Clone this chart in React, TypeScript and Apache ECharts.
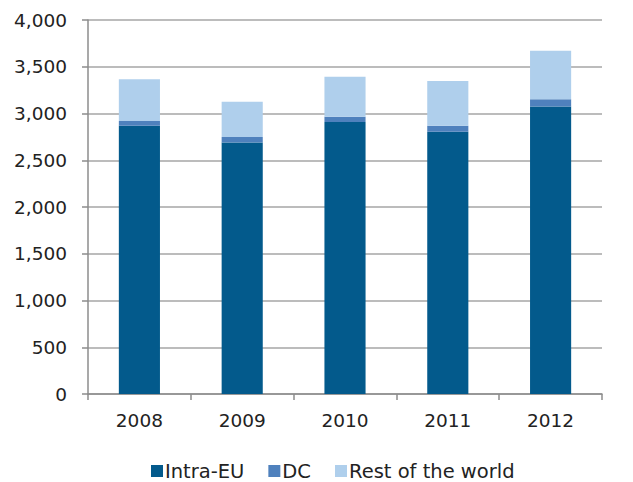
import React, { useEffect, useRef } from "react";
import * as echarts from "echarts";

const years = ["2008", "2009", "2010", "2011", "2012"];
const intraEU = [2870, 2690, 2910, 2805, 3075];
const dc = [50, 60, 55, 65, 77];
const restOfWorld = [446, 377, 429, 478, 520];

const seriesNames = ["Intra-EU", "DC", "Rest of the world"];
const seriesColors = ["#035a8c", "#4f81bd", "#afcfec"];

export default function App() {
  const ref = useRef<HTMLDivElement>(null);
  useEffect(() => {
    if (!ref.current) return;
    const chart = echarts.init(ref.current, null, { renderer: "svg" });
    const dataSets = [intraEU, dc, restOfWorld];
    chart.setOption({
      animation: false,
      textStyle: { fontFamily: "DejaVu Sans" },
      grid: { left: 88, right: 31, top: 20, bottom: 88, containLabel: false },
      legend: {
        top: 456,
        left: 146,
        itemWidth: 12,
        itemHeight: 12,
        itemGap: 24,
        icon: "rect",
        textStyle: { fontSize: 19.5, lineHeight: 20, color: "#222", fontFamily: "DejaVu Sans", padding: [0, 0, 0, -3] },
        data: seriesNames,
      },
      xAxis: {
        type: "category",
        data: years,
        axisLine: { lineStyle: { color: "#8c8c8c", width: 1.5 } },
        axisTick: { show: true, length: 6, lineStyle: { color: "#8c8c8c", width: 1.5 } },
        axisLabel: { fontSize: 18.5, color: "#222", margin: 17 },
      },
      yAxis: {
        type: "value",
        min: 0,
        max: 4000,
        interval: 500,
        axisLine: { show: true, lineStyle: { color: "#8c8c8c", width: 1.5 } },
        axisTick: { show: true, length: 6, lineStyle: { color: "#8c8c8c", width: 1.5 } },
        splitLine: { lineStyle: { color: "#a6a6a6", width: 1.5 } },
        axisLabel: {
          fontSize: 18.5,
          color: "#222",
          margin: 21,
          formatter: (v: number) => v.toLocaleString("en-US"),
        },
      },
      series: seriesNames.map((name, i) => ({
        name,
        type: "bar",
        stack: "total",
        barWidth: "40%",
        itemStyle: { color: seriesColors[i] },
        data: dataSets[i],
      })),
    });
    return () => chart.dispose();
  }, []);
  return <div ref={ref} style={{ width: 633, height: 482, position: "absolute", left: 0, top: 0 }} />;
}
